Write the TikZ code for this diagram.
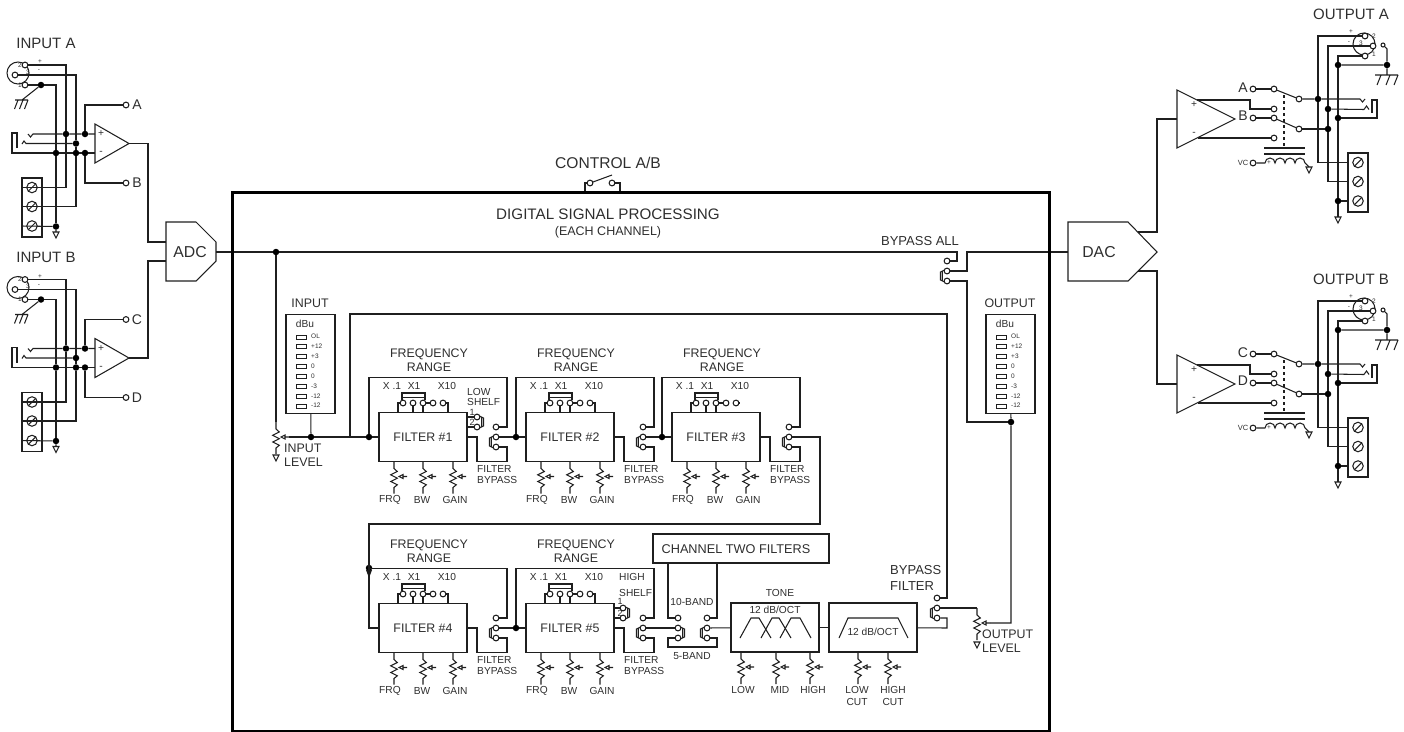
\documentclass[tikz,border=0pt]{standalone}
\usepackage{fontspec}
\setmainfont{Liberation Sans}
\definecolor{txtgray}{HTML}{2E2E2E}
\tikzset{
  wire/.style={line width=1.05pt,black!88},
  pinc/.style={circle,draw,wire,fill=white,minimum size=5.8pt,inner sep=0pt},
  jdot/.style={circle,fill=black,minimum size=6.5pt,inner sep=0pt},
  fltbox/.style={draw,wire,minimum width=88pt,minimum height=49pt,inner sep=0pt,text=txtgray,font=\fontsize{12.4}{14}\selectfont},
  lblbig/.style={inner sep=0pt,text=txtgray,font=\fontsize{15}{18}\selectfont,align=center},
  lblmid/.style={inner sep=0pt,text=txtgray,font=\fontsize{12.4}{14}\selectfont,align=center},
  lblsm/.style={inner sep=0pt,text=txtgray,font=\fontsize{10.2}{11.5}\selectfont,align=left},
  lbltiny/.style={inner sep=0pt,text=txtgray,font=\fontsize{6.5}{7}\selectfont}
}
\newcommand{\gndtri}[2]{\draw[wire] (#1-3,#2) -- (#1+3,#2) -- (#1,#2+6) -- cycle;}
\newcommand{\lever}[3]{
  \begin{scope}[shift={(#1,#2)},xscale=#3]
    \draw[wire] (-2.5,-1) -- (-6.5,1) -- (-6.5,9) -- (-2.5,11) (-4.6,0.5) -- (-4.6,9.5);
  \end{scope}}
\newcommand{\vpot}[3]{
  \coordinate (#1) at (#2,#3);
  \coordinate (#1w) at (#2+13,#3+15);
  \begin{scope}[shift={(#2,#3)}]
    \draw[wire] (0,0) -- (0,7) -- (3.3,10) -- (-3.3,13.3) -- (3.3,16.7) -- (-3.3,20) -- (3.3,23.3) -- (0,26) -- (0,32);
    \draw[wire] (13,15) -- (9,15) (5,15) -- (9,13) -- (9,17) -- cycle;
  \end{scope}}
\newcommand{\termblock}[3]{
  \node[draw,wire,minimum width=20pt,minimum height=59pt,inner sep=0pt] (#1) at (#2+10,#3+29.5) {};
  \coordinate (#1a) at (#2,#3+9.5);
  \coordinate (#1b) at (#2,#3+28.5);
  \coordinate (#1c) at (#2,#3+48);
  \foreach \n/\dy in {1/9.5,2/28.5,3/48} {
    \node[pinc,minimum size=10.5pt] (#1s\n) at (#2+10,#3+\dy) {};
    \draw[wire] (#2+6.5,#3+\dy+3.5) -- (#2+13.5,#3+\dy-3.5);
  }}
\newcommand{\ledmeter}[3]{
  \node[draw,wire,minimum width=49pt,minimum height=99pt,inner sep=0pt] (#1) at (#2+24.5,364) {};
  \node[lblmid] (#1t) at (#2+24,303) {#3};
  \node[lblsm] (#1d) at (#2+19,323.5) {dBu};
  \foreach \t [count=\i] in {OL,+12,+3,0,0,-3,-12,-12} {
    \draw[wire,line width=.9pt] (#2+10,335+9.85*\i-9.85) rectangle (#2+20,339+9.85*\i-9.85);
    \node[lbltiny,anchor=west] (#1l\i) at (#2+25,336.7+9.85*\i-9.85) {\t};
  }}
\newcommand{\filterunit}[5]{
  \begin{scope}[shift={(#2,#3)}]
    \node[fltbox] (#1) at (44,0) {FILTER \##4};
    \node[jdot] (#1j) at (-10,#5) {};
    \node[lblmid] (#1fr) at (50,-77) {FREQUENCY\\RANGE};
    \node[lblsm] (#1x1) at (13,-51) {X .1};
    \node[lblsm] (#1x2) at (35,-51) {X1};
    \node[lblsm] (#1x3) at (68,-51) {X10};
    \foreach \n/\dx in {1/24,2/34,3/44,4/54,5/64} \node[pinc] (#1t\n) at (\dx,-34) {};
    \coordinate (#1c5) at (69,-24.5);
    \draw[wire] (19,-24.5) |- (#1t1);
    \draw[wire] (#1t2) -- (34,-24.5);
    \draw[wire] (#1t3) -- (44,-24.5);
    \draw[wire] (#1t3) -- (#1t4);
    \draw[wire] (23,-37) -- (23,-44) -- (46,-44) -- (46,-37) (23,-39.5) -- (46,-39.5);
    \node[pinc] (#1sa) at (117,-10) {};
    \node[pinc] (#1sb) at (117,0) {};
    \node[pinc] (#1sc) at (117,10) {};
    \lever{117}{0}{1}
    \draw[wire] (#1j) |- (128,-59.5) |- (#1sa);
    \draw[wire] (#1.east) -- (98,0) |- (128,24.5) |- (#1sc);
    \node[lblsm,anchor=north west] (#1byp) at (98,28) {FILTER\\BYPASS};
    \vpot{#1pa}{15}{24.5}
    \vpot{#1pb}{44}{24.5}
    \vpot{#1pc}{74}{24.5}
    \node[lblsm] (#1la) at (11,63) {FRQ};
    \node[lblsm] (#1lb) at (43,63) {BW};
    \node[lblsm] (#1lc) at (76,63) {GAIN};
  \end{scope}}
\newcommand{\inputstage}[5]{
  \begin{scope}[shift={(0,#2)}]
    \node[lblbig] (in#1t) at (46,43) {#5};
    \node[circle,draw,wire,minimum size=22pt,inner sep=0pt] (xlr#1) at (18,73) {};
    \node[pinc] (xlr#1b) at (25,65) {};
    \node[pinc] (xlr#1c) at (15,75) {};
    \node[pinc] (xlr#1a) at (25,85) {};
    \node[lbltiny] (xlr#1l2) at (20,65) {2};
    \node[lbltiny] (xlr#1l3) at (28,72) {3};
    \node[lbltiny] (xlr#1l1) at (20,85) {1};
    \node[lbltiny] (xlr#1lp) at (40,62) {+};
    \node[lbltiny] (xlr#1lm) at (39,71) {-};
    \node[jdot] (g#1) at (41,85) {};
    \node[jdot] (j#1a) at (66,134) {};
    \node[jdot] (j#1b) at (85,134) {};
    \node[jdot] (j#1c) at (76,143.5) {};
    \node[jdot] (j#1d) at (76,153) {};
    \node[jdot] (j#1e) at (85,153) {};
    \node[jdot] (j#1f) at (56,153) {};
    \termblock{tb#1}{22}{178}
    \node[jdot] (j#1g) at (56,226.5) {};
    \draw[wire] (xlr#1b) -- (66,65) -- (j#1a) |- (tb#1a);
    \draw[wire] (xlr#1c) -- (76,75) -- (j#1c) -- (j#1d) |- (tb#1b);
    \draw[wire] (xlr#1a) -- (g#1) -- (56,85) -- (j#1f) -- (j#1g);
    \draw[wire] (tb#1c) -- (j#1g) -- (56,232);
    \gndtri{56}{232}
    \draw[wire] (g#1) -- (22,100) (15,100) -- (28,100) (18,100) -- (14.5,109) (23,100) -- (19.5,109) (28,100) -- (24.5,109);
    \draw[wire] (17,148) -- (17,133) -- (12,133) -- (12,153) -- (j#1f) -- (j#1d) -- (j#1e) -- (95,153);
    \draw[wire] (28,134) -- (30.5,137) -- (33,134) -- (j#1a) -- (j#1b) -- (95,134);
    \draw[wire] (22,144) -- (24,141) -- (26,143.5) -- (j#1c);
    \draw[wire] (95,124) -- (95,163) -- (129,143.5) -- cycle;
    \coordinate (op#1) at (129,143.5);
    \node[lblsm] (op#1p) at (101,134) {+};
    \node[lblsm] (op#1m) at (101,153) {-};
    \node[pinc] (t#1u) at (126,105) {};
    \node[pinc] (t#1l) at (126,183) {};
    \node[lblmid,font=\fontsize{14}{16}\selectfont] (t#1ut) at (137,105) {#3};
    \node[lblmid,font=\fontsize{14}{16}\selectfont] (t#1lt) at (137,183) {#4};
    \draw[wire] (j#1b) |- (t#1u);
    \draw[wire] (j#1e) |- (t#1l);
  \end{scope}}
\newcommand{\outputstage}[5]{
  \begin{scope}[shift={(0,#2)}]
    \node[lblbig] (out#1t) at (1351,14) {#5};
    \node[circle,draw,wire,minimum size=22pt,inner sep=0pt] (oxl#1) at (1364,44) {};
    \node[pinc] (oxl#1b) at (1365,36) {};
    \node[pinc] (oxl#1c) at (1373,46) {};
    \node[pinc] (oxl#1a) at (1365,56) {};
    \node[pinc,minimum size=4pt] (oxl#1s) at (1383,45) {};
    \node[lbltiny] (oxl#1l2) at (1374,36) {2};
    \node[lbltiny] (oxl#1l3) at (1361,43) {3};
    \node[lbltiny] (oxl#1l1) at (1374,54) {1};
    \node[lbltiny] (oxl#1lp) at (1351,32) {+};
    \node[lbltiny] (oxl#1lm) at (1349,43) {-};
    \draw[wire] (1177,90) -- (1177,148) -- (1235,119) -- cycle;
    \coordinate (op#1) at (1177,119);
    \node[lblsm] (op#1p) at (1194,105) {+};
    \node[lblsm] (op#1m) at (1194,134) {-};
    \node[lblmid,font=\fontsize{14}{16}\selectfont] (sw#1ut) at (1243,88) {#3};
    \node[lblmid,font=\fontsize{14}{16}\selectfont] (sw#1lt) at (1243,116) {#4};
    \node[pinc] (sw#1a) at (1253,89) {};
    \node[pinc] (sw#1b) at (1253,118) {};
    \node[pinc] (sw#1c) at (1274,89) {};
    \node[pinc] (sw#1d) at (1274,109) {};
    \node[pinc] (sw#1e) at (1274,118) {};
    \node[pinc] (sw#1f) at (1274,138) {};
    \node[pinc] (sw#1g) at (1299,99) {};
    \node[pinc] (sw#1h) at (1299,129) {};
    \draw[wire] (sw#1a) -- (sw#1c);
    \draw[wire] (sw#1b) -- (sw#1e);
    \draw[wire] (sw#1c) -- (sw#1g);
    \draw[wire] (sw#1e) -- (sw#1h);
    \draw[wire] (1197,100) -- (1250,100) |- (sw#1d);
    \draw[wire] (1198,138) -- (sw#1f);
    \draw[wire,dashed] (1284,95) -- (1284,147);
    \draw[wire] (1264,148) -- (1305,148) (1264,154) -- (1305,154);
    \node[lbltiny,font=\fontsize{7.5}{8}\selectfont] (vc#1t) at (1243,163) {VC};
    \node[pinc] (vc#1) at (1253,163) {};
    \draw[wire] (vc#1) -- (1265,163) arc[start angle=180,end angle=360,radius=5] arc[start angle=180,end angle=360,radius=5] arc[start angle=180,end angle=360,radius=5] arc[start angle=180,end angle=360,radius=5] -- (1309,167);
    \gndtri{1309}{167}
    \node[lbltiny] (vc#1p) at (1269,163) {+};
    \node[jdot] (j#1a) at (1318,99) {};
    \node[jdot] (j#1b) at (1328,109) {};
    \node[jdot] (j#1c) at (1338,118) {};
    \node[jdot] (j#1d) at (1328,129) {};
    \node[jdot] (j#1e) at (1338,65) {};
    \node[jdot] (j#1f) at (1338,201) {};
    \node[jdot] (j#1g) at (1387,65) {};
    \termblock{tb#1}{1348}{153}
    \draw[wire] (sw#1g) -- (j#1a) -- (1360,99) -- (1362.5,102) -- (1365,99);
    \draw[wire] (sw#1h) -- (j#1d);
    \draw[wire] (1364,109.5) -- (1366.5,106) -- (1369,109.5);
    \draw[wire] (j#1b) -- (1364,109.5);
    \draw[wire] (j#1c) -- (1377,118) -- (1377,100) -- (1372,100) -- (1372,113);
    \draw[wire] (oxl#1b) -- (1318,36) -- (j#1a) |- (tb#1a);
    \draw[wire] (oxl#1c) -- (1328,46) -- (j#1b) -- (j#1d) |- (tb#1b);
    \draw[wire] (oxl#1a) -- (1338,56) -- (j#1e) -- (j#1c) -- (j#1f) -- (1338,217);
    \draw[wire] (j#1f) -- (tb#1c);
    \gndtri{1338}{217}
    \draw[wire] (j#1e) -- (j#1g) -- (1387,49) -- (oxl#1s);
    \draw[wire] (j#1g) -- (1387,75) (1375,75) -- (1398,75) (1381,75) -- (1377,85) (1390,75) -- (1386,85) (1398,75) -- (1394,85);
  \end{scope}}
\begin{document}
\begin{tikzpicture}[x=1pt,y=-1pt]
\useasboundingbox (0,0) rectangle (1404,731);
\inputstage{IA}{0}{A}{B}{INPUT A}
\inputstage{IB}{214.5}{C}{D}{INPUT B}
\outputstage{OA}{0}{A}{B}{OUTPUT A}
\outputstage{OB}{265}{C}{D}{OUTPUT B}
\node[lblbig,font=\fontsize{15.8}{18}\selectfont] (adc) at (190,252) {ADC};
\draw[wire] (166,222) -- (196,222) -- (216,242) -- (216,261) -- (196,281) -- (166,281) -- cycle;
\coordinate (adca) at (166,242);
\coordinate (adcb) at (166,261);
\coordinate (adcout) at (216,252);
\draw[wire] (opIA) -- (148,143.5) |- (adca);
\draw[wire] (opIB) -- (148,358) |- (adcb);
\node[lblbig,font=\fontsize{15.8}{18}\selectfont] (dac) at (1099,252) {DAC};
\draw[wire] (1068,222) -- (1128,222) -- (1157,252) -- (1128,281) -- (1068,281) -- cycle;
\coordinate (dacin) at (1068,252);
\coordinate (daca) at (1138,232);
\coordinate (dacb) at (1138,271);
\draw[wire] (daca) -- (1157,232) |- (opOA);
\draw[wire] (dacb) -- (1157,271) |- (opOB);
\node[lblbig,font=\fontsize{15.6}{18}\selectfont] (ctrl) at (608,163) {CONTROL A/B};
\node[pinc] (ctrla) at (590,183) {};
\node[pinc] (ctrlb) at (612,183) {};
\coordinate (ctrlc) at (585,192);
\coordinate (ctrld) at (620,192);
\draw[wire] (ctrlc) |- (ctrla);
\draw[wire] (ctrld) |- (ctrlb);
\draw[wire] (593,182) -- (612,175);
\node[lblbig,font=\fontsize{15.2}{18}\selectfont] (dsp) at (608,214) {DIGITAL SIGNAL PROCESSING};
\node[lblsm,font=\fontsize{12.5}{14}\selectfont] (each) at (608,232) {(EACH CHANNEL)};
\node[jdot] (jmain) at (276,252) {};
\vpot{inpot}{276}{422}
\gndtri{276}{455}
\ledmeter{inmeter}{286}{INPUT}
\ledmeter{outmeter}{986}{OUTPUT}
\node[lblmid,anchor=north west,align=left] (inlvl) at (284,444) {INPUT\\LEVEL};
\node[jdot] (jin) at (311,437) {};
\coordinate (jret) at (350,437);
\filterunit{f1}{379}{437}{1}{0}
\filterunit{f2}{526}{437}{2}{0}
\filterunit{f3}{672}{437}{3}{0}
\filterunit{f4}{379}{628}{4}{-60}
\filterunit{f5}{526}{628}{5}{0}
\foreach \f in {f1,f2,f4,f5} \draw[wire] (\f t5) -| (\f c5);
\draw[wire] (f3t5) -- (740,403);
\draw[wire] (jmain) -- (inpot);
\draw[wire] (inpotw) -- (jin) -- (f1j) -- (f1);
\draw[wire] (jin) -- (inmeter);
\draw[wire] (f1sb) -- (f2j) -- (f2);
\draw[wire] (f2sb) -- (f3j) -- (f3);
\draw[wire] (f3sb) -- (820,437) |- (369,524) |- (f4);
\fill[black!90] (366,570) -- (372,570) -- (369,578) -- cycle;
\draw[wire] (f4sb) -- (f5j) -- (f5);
\node[lblsm,anchor=west] (ls1) at (467,392) {LOW};
\node[lblsm,anchor=west] (ls2) at (467,402) {SHELF};
\node[lbltiny,font=\fontsize{9}{10}\selectfont] (ls3) at (472,412) {1};
\node[lbltiny,font=\fontsize{9}{10}\selectfont] (ls4) at (472,422) {2};
\node[pinc] (lsa) at (477,417) {};
\node[pinc] (lsb) at (477,427) {};
\draw[wire] (lsa) -- (467,417) (lsb) -- (467,427);
\lever{477}{417}{-1}
\node[lblsm,anchor=west] (hs1) at (619,577) {HIGH};
\node[lblsm,anchor=west] (hs2) at (619,593) {SHELF};
\node[lbltiny,font=\fontsize{9}{10}\selectfont] (hs3) at (620,601) {1};
\node[lbltiny,font=\fontsize{9}{10}\selectfont] (hs4) at (620,613) {2};
\node[pinc] (hsa) at (623,608) {};
\node[pinc] (hsb) at (623,618) {};
\draw[wire] (hsa) -- (613,608) (hsb) -- (613,618);
\lever{623}{608}{-1}
\node[draw,wire,minimum width=176pt,minimum height=29pt] (chtwo) at (741,548.5) {};
\node[lblmid,font=\fontsize{12.7}{14}\selectfont] (chtxt) at (736,549) {CHANNEL TWO FILTERS};
\coordinate (chl) at (668,563);
\coordinate (chr) at (717,563);
\node[pinc] (swla) at (678,618) {};
\node[pinc] (swlb) at (678,628) {};
\node[pinc] (swlc) at (678,638) {};
\node[pinc] (swra) at (707,618) {};
\node[pinc] (swrb) at (707,628) {};
\node[pinc] (swrc) at (707,638) {};
\lever{678}{628}{-1}
\lever{707}{628}{1}
\node[lblsm] (tenb) at (692,602) {10-BAND};
\node[lblsm] (fiveb) at (692,656) {5-BAND};
\draw[wire] (f5sb) -- (swlb);
\draw[wire] (chl) |- (swla);
\draw[wire] (chr) |- (swra);
\draw[wire] (swlc) -- (668,638) |- (717,647) |- (swrc);
\node[fltbox] (tonebox) at (775,627.5) {};
\node[lblsm] (tonet) at (780,593) {TONE};
\node[lblsm] (tonedb) at (775,610) {12 dB/OCT};
\draw[wire] (740,638) -- (751,618) -- (759,618) -- (771,638);
\draw[wire] (761,638) -- (772,618) -- (779,618) -- (791,638);
\draw[wire] (780,638) -- (791,618) -- (800,618) -- (811,638);
\node[fltbox] (cutbox) at (873,627.5) {};
\node[lblsm] (cutdb) at (873,632) {12 dB/OCT};
\draw[wire] (839,638) -- (848,618) -- (898,618) -- (908,638);
\vpot{tpa}{741}{652}
\vpot{tpb}{776}{652}
\vpot{tpc}{810}{652}
\vpot{cpa}{858}{652}
\vpot{cpb}{888}{652}
\node[lblsm] (tla) at (743,690) {LOW};
\node[lblsm] (tlb) at (780,690) {MID};
\node[lblsm] (tlc) at (813,690) {HIGH};
\node[lblsm,align=center] (cla) at (857,696) {LOW\\CUT};
\node[lblsm,align=center] (clb) at (893,696) {HIGH\\CUT};
\draw[wire] (swrb) -- (tonebox);
\draw[wire] (tonebox) -- (cutbox);
\node[pinc] (bpfa) at (937,598) {};
\node[pinc] (bpfb) at (937,608) {};
\node[pinc] (bpfc) at (937,618) {};
\lever{937}{608}{1}
\node[lblmid,anchor=north west,align=left,font=\fontsize{13}{16.5}\selectfont] (bpftxt) at (890,565) {BYPASS\\FILTER};
\draw[wire] (jret) |- (947,314) |- (bpfa);
\draw[wire] (cutbox) -- (947,628) |- (bpfc);
\vpot{outpot}{977}{608}
\gndtri{977}{642}
\draw[wire] (bpfb) -- (outpot);
\node[lblmid,anchor=north west,align=left] (outlvl) at (982,630) {OUTPUT\\LEVEL};
\node[jdot] (jout) at (1011,422) {};
\draw[wire] (outpotw) -- (1011,623) -- (jout) -- (outmeter);
\node[lblsm,font=\fontsize{13}{15}\selectfont] (bpat) at (920,241) {BYPASS ALL};
\node[pinc] (bpa) at (947,261) {};
\node[pinc] (bpb) at (947,271) {};
\node[pinc] (bpc) at (947,281) {};
\lever{947}{271}{1}
\draw[wire] (adcout) -- (jmain) -- (957,252) |- (bpa);
\draw[wire] (dacin) -- (967,252) |- (bpb);
\draw[wire] (bpc) -- (967,281) |- (jout);
\draw[line width=2.6pt,black] (232.5,192.5) rectangle (1049.5,731);
\end{tikzpicture}
\end{document}
